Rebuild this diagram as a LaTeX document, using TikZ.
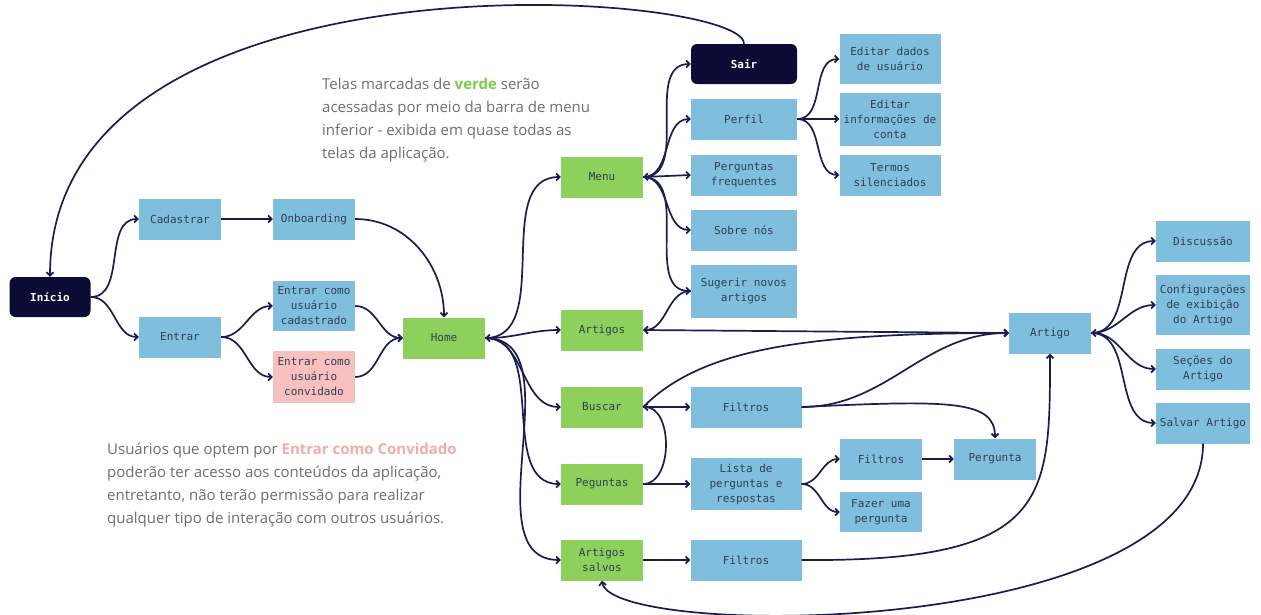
\documentclass[tikz,border=0pt]{standalone}
\usepackage{fontspec}
\setmainfont{Open Sans}
\setmonofont{DejaVu Sans Mono}
\usetikzlibrary{arrows.meta}
\definecolor{boxblue}{HTML}{80BEDD}
\definecolor{boxgreen}{HTML}{8DD05C}
\definecolor{boxpink}{HTML}{F9C0C0}
\definecolor{navy}{HTML}{0B0B36}
\definecolor{boxtext}{HTML}{2E4053}
\definecolor{edge}{HTML}{1C1C50}
\definecolor{notegray}{HTML}{6E6E6E}
\definecolor{verde}{HTML}{7CCB4A}
\definecolor{rosa}{HTML}{F5AAAA}
\begin{document}
\begin{tikzpicture}[x=1pt, y=-1pt,
        every node/.style = {font=\ttfamily\fontsize{11}{15}\selectfont, text=boxtext, align=center, inner sep=0pt},
        screen/.style = {fill=boxblue, minimum width=82, minimum height=41},
        menuscreen/.style = {screen, fill=boxgreen},
        guestscreen/.style = {screen, fill=boxpink},
        darkscreen/.style = {screen, fill=navy, text=white, rounded corners=6pt, font=\ttfamily\bfseries\fontsize{11}{15}\selectfont},
        note/.style = {font=\rmfamily\fontsize{15}{23}\selectfont, text=notegray, align=left},
        link/.style = {draw=edge, line width=1.7pt, -{Straight Barb[length=3.5pt,width=7pt]}},
        twoway/.style = {link, {Straight Barb[length=3.5pt,width=7pt]}-{Straight Barb[length=3.5pt,width=7pt]}},
        ]
        \useasboundingbox (0,0) rectangle (1261,614);

        \node[darkscreen, minimum width=81, minimum height=40] (inicio) at (50,297) {Início};
        \node[screen] (cadastrar) at (180,219) {Cadastrar};
        \node[screen] (onboarding) at (314,219) {Onboarding};
        \node[screen] (entrar) at (180,337) {Entrar};
        \node[screen, minimum height=50] (cadastrado) at (314,306) {Entrar como\\usuário\\cadastrado};
        \node[guestscreen, minimum height=52] (convidado) at (314,377) {Entrar como\\usuário\\convidado};
        \node[menuscreen] (home) at (444,338) {Home};
        \node[menuscreen] (menu) at (602,177) {Menu};
        \node[menuscreen] (artigos) at (602,330) {Artigos};
        \node[menuscreen] (buscar) at (602,407) {Buscar};
        \node[menuscreen] (peguntas) at (602,484) {Peguntas};
        \node[menuscreen] (salvos) at (602,560) {Artigos\\salvos};
        \node[darkscreen, minimum width=106, minimum height=40] (sair) at (744,64) {Sair};
        \node[screen, minimum width=106] (perfil) at (744,119) {Perfil};
        \node[screen, minimum width=106] (faq) at (744,175) {Perguntas\\frequentes};
        \node[screen, minimum width=106] (sobre) at (744,230) {Sobre nós};
        \node[screen, minimum width=106, minimum height=53] (sugerir) at (744,291) {Sugerir novos\\artigos};
        \node[screen, minimum width=101, minimum height=50] (dados) at (890,59) {Editar dados\\de usuário};
        \node[screen, minimum width=101, minimum height=53] (conta) at (890,119) {Editar\\informações de\\conta};
        \node[screen, minimum width=101] (termos) at (890,175) {Termos\\silenciados};
        \node[screen, minimum width=111] (filtrosbusca) at (746,407) {Filtros};
        \node[screen, minimum width=111, minimum height=52] (lista) at (746,484) {Lista de\\perguntas e\\respostas};
        \node[screen] (filtroslista) at (881,459) {Filtros};
        \node[screen, minimum height=40] (fazer) at (881,512) {Fazer uma\\pergunta};
        \node[screen] (pergunta) at (995,459) {Pergunta};
        \node[screen, minimum width=111] (filtrossalvos) at (746,560) {Filtros};
        \node[screen] (artigo) at (1050,333) {Artigo};
        \node[screen, minimum width=94] (discussao) at (1203,241) {Discussão};
        \node[screen, minimum width=94, minimum height=60] (config) at (1203,305) {Configurações\\de exibição\\do Artigo};
        \node[screen, minimum width=94] (secoes) at (1203,369) {Seções do\\Artigo};
        \node[screen, minimum width=94] (salvar) at (1203,423) {Salvar Artigo};

        \node[note, anchor=north west] (notaverde) at (322,78) {Telas marcadas de {\bfseries\color{verde}verde} serão\\acessadas por meio da barra de menu\\inferior - exibida em quase todas as\\telas da aplicação.};
        \node[note, anchor=north west] (notaconvidado) at (107,443) {Usuários que optem por {\bfseries\color{rosa}Entrar como Convidado}\\poderão ter acesso aos conteúdos da aplicação,\\entretanto, não terão permissão para realizar\\qualquer tipo de interação com outros usuários.};

        \draw[link] (inicio.east) to[out=0, in=180] (cadastrar.west);
        \draw[link] (inicio.east) to[out=0, in=180] (entrar.west);
        \draw[link] (cadastrar) -- (onboarding);
        \draw[link] (onboarding.east) to[out=0, in=90] (home.north);
        \draw[link] (entrar.east) to[out=0, in=180] (cadastrado.west);
        \draw[link] (entrar.east) to[out=0, in=180] (convidado.west);
        \draw[link] (cadastrado.east) to[out=0, in=180] (home.west);
        \draw[link] (convidado.east) to[out=0, in=180] (home.west);

        \draw[link] (home.east) to[out=0, in=180] (menu.west);
        \draw[twoway] (home.east) to[out=0, in=180] (artigos.west);
        \draw[link] (home.east) to[out=0, in=180] (buscar.west);
        \draw[link] (home.east) to[out=0, in=180] (peguntas.west);
        \draw[link] (home.east) to[out=0, in=180] (salvos.west);

        \draw[link] (menu.east) to[out=0, in=180] (sair.west);
        \draw[link] (menu.east) to[out=0, in=180] (perfil.west);
        \draw[twoway] (menu.east) -- (faq.west);
        \draw[link] (menu.east) to[out=0, in=180] (sobre.west);
        \draw[link] (menu.east) to[out=0, in=180] (sugerir.west);
        \draw[link] (sugerir.west) to[out=180, in=0] (artigos.east);
        \draw[link] (sair.north) .. controls (745,-10) and (50,-60) .. (inicio.north);

        \draw[link] (perfil.east) to[out=0, in=180] (dados.west);
        \draw[link] (perfil.east) -- (conta.west);
        \draw[link] (perfil.east) to[out=0, in=180] (termos.west);

        \draw[twoway] (artigos.east) -- (artigo.west);
        \draw[link] (buscar.east) .. controls (700,350) and (800,333) .. (artigo.west);
        \draw[link] (buscar) -- (filtrosbusca);
        \draw[link] (filtrosbusca.east) to[out=0, in=180] (artigo.west);
        \draw[link] (filtrosbusca.east) .. controls (950,400) and (995,400) .. (pergunta.north);
        \draw[link] (peguntas.east) to[out=0, in=0] (buscar.east);
        \draw[link] (peguntas) -- (lista);
        \draw[link] (lista.east) to[out=0, in=180] (filtroslista.west);
        \draw[link] (lista.east) to[out=0, in=180] (fazer.west);
        \draw[link] (filtroslista) -- (pergunta);
        \draw[link] (salvos) -- (filtrossalvos);
        \draw[link] (filtrossalvos.east) .. controls (1050,562) and (1050,500) .. (artigo.south);
        \draw[link] (salvar.south) .. controls (1203,640) and (610,640) .. (salvos.south);

        \draw[link] (artigo.east) to[out=0, in=180] (discussao.west);
        \draw[link] (artigo.east) to[out=0, in=180] (config.west);
        \draw[twoway] (artigo.east) to[out=0, in=180] (secoes.west);
        \draw[link] (artigo.east) to[out=0, in=180] (salvar.west);
    \end{tikzpicture}
\end{document}
